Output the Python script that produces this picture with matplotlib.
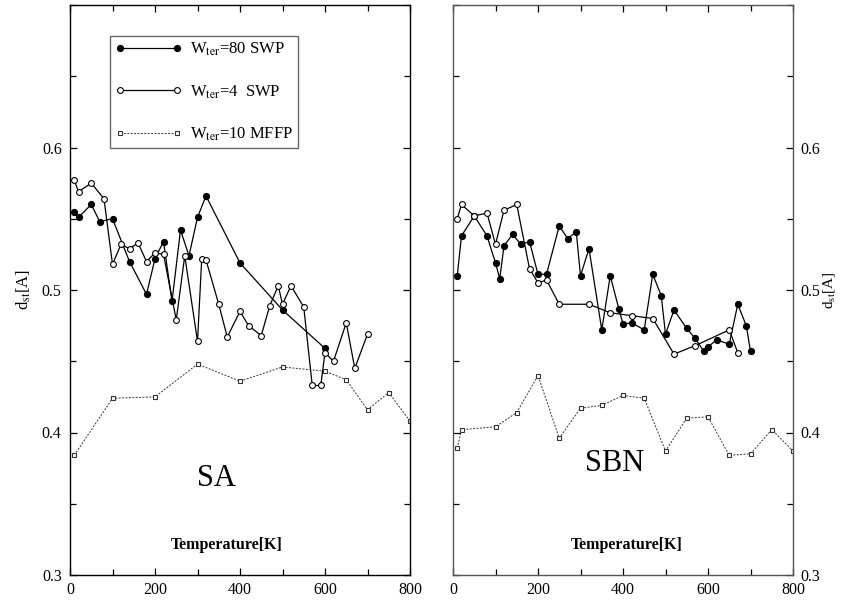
import matplotlib
matplotlib.use("Agg")
import matplotlib.pyplot as plt
from matplotlib.ticker import MultipleLocator

plt.rcParams['font.family'] = ['Liberation Serif', 'DejaVu Serif']
plt.rcParams['mathtext.fontset'] = 'stix'

# SA panel
sa_t80 = [10, 20, 50, 70, 100, 140, 180, 200, 220, 240, 260, 280, 300, 320, 400, 500, 600]
sa_d80 = [0.555, 0.551, 0.560, 0.548, 0.550, 0.520, 0.497, 0.522, 0.534, 0.492, 0.542,
          0.524, 0.551, 0.566, 0.519, 0.486, 0.459]
sa_t4 = [10, 20, 50, 80, 100, 120, 140, 160, 180, 200, 220, 250, 270, 300, 310, 320, 350,
         370, 400, 420, 450, 470, 490, 500, 520, 550, 570, 590, 600, 620, 650, 670, 700]
sa_d4 = [0.577, 0.569, 0.575, 0.564, 0.518, 0.532, 0.529, 0.533, 0.520, 0.526, 0.525, 0.479,
         0.524, 0.464, 0.522, 0.521, 0.490, 0.467, 0.485, 0.475, 0.468, 0.489, 0.503, 0.490,
         0.503, 0.488, 0.433, 0.433, 0.456, 0.450, 0.477, 0.445, 0.469]
sa_tm = [10, 100, 200, 300, 400, 500, 600, 650, 700, 750, 800]
sa_dm = [0.384, 0.424, 0.425, 0.448, 0.436, 0.446, 0.443, 0.437, 0.416, 0.428, 0.408]

# SBN panel
sbn_t80 = [10, 20, 50, 80, 100, 110, 120, 140, 160, 180, 200, 220, 250, 270, 290, 300, 320,
           350, 370, 390, 400, 420, 450, 470, 490, 500, 520, 550, 570, 590, 600, 620, 650,
           670, 690, 700]
sbn_d80 = [0.510, 0.538, 0.552, 0.538, 0.519, 0.508, 0.531, 0.539, 0.532, 0.534, 0.511,
           0.511, 0.545, 0.536, 0.541, 0.510, 0.529, 0.472, 0.510, 0.487, 0.476, 0.477,
           0.472, 0.511, 0.496, 0.469, 0.486, 0.473, 0.466, 0.457, 0.460, 0.465, 0.462,
           0.490, 0.475, 0.457]
sbn_t4 = [10, 20, 50, 80, 100, 120, 150, 180, 200, 220, 250, 320, 370, 420, 470, 520, 570,
          650, 670]
sbn_d4 = [0.550, 0.560, 0.552, 0.554, 0.532, 0.556, 0.560, 0.515, 0.505, 0.507, 0.490,
          0.490, 0.484, 0.482, 0.480, 0.455, 0.461, 0.472, 0.456]
sbn_tm = [10, 20, 100, 150, 200, 250, 300, 350, 400, 450, 500, 550, 600, 650, 700, 750, 800]
sbn_dm = [0.389, 0.402, 0.404, 0.414, 0.440, 0.396, 0.417, 0.419, 0.426, 0.424, 0.387,
          0.410, 0.411, 0.384, 0.385, 0.402, 0.387]

labels = [r"W$_{\rm ter}$=80 SWP", r"W$_{\rm ter}$=4  SWP", r"W$_{\rm ter}$=10 MFFP"]

fig = plt.figure(figsize=(8.41, 6.03), dpi=100)
W, H = 841, 603
ax1 = fig.add_axes([70 / W, 28 / H, 340 / W, 570 / H])
ax2 = fig.add_axes([453 / W, 28 / H, 340 / W, 570 / H])


def draw(ax, t80, d80, t4, d4, tm, dm):
    l1, = ax.plot(t80, d80, '-o', color='black', lw=0.9, ms=4.2, mfc='black', mec='black')
    l2, = ax.plot(t4, d4, '-o', color='black', lw=0.9, ms=4.2, mfc='white', mec='black', mew=0.8)
    l3, = ax.plot(tm, dm, linestyle=(0, (2, 1.5)), marker='s', color='#333333', lw=0.7,
                  ms=3.2, mfc='white', mec='#333333', mew=0.8)
    ax.set_xlim(0, 800)
    ax.set_ylim(0.3, 0.7)
    ax.xaxis.set_major_locator(MultipleLocator(200))
    ax.xaxis.set_minor_locator(MultipleLocator(100))
    ax.yaxis.set_major_locator(MultipleLocator(0.1))
    ax.yaxis.set_minor_locator(MultipleLocator(0.05))
    ax.tick_params(which='both', direction='in', top=True, right=True, left=True,
                   labelsize=11.5, width=0.9)
    ax.tick_params(which='major', length=5)
    ax.tick_params(which='minor', length=4)
    ax.tick_params(axis='x', pad=5)
    for s in ax.spines.values():
        s.set_linewidth(1.0)
    ax.set_yticks([0.3, 0.4, 0.5, 0.6])
    ax.set_yticklabels(['0.3', '0.4', '0.5', '0.6'])
    return l1, l2, l3


h = draw(ax1, sa_t80, sa_d80, sa_t4, sa_d4, sa_tm, sa_dm)
draw(ax2, sbn_t80, sbn_d80, sbn_t4, sbn_d4, sbn_tm, sbn_dm)

ax1.tick_params(axis='y', labelleft=True, labelright=False, pad=6)
ax1.set_ylabel(r"d$_{\rm st}$[A]", fontsize=12, labelpad=6)

ax2.tick_params(axis='y', labelleft=False, labelright=True, pad=5)
ax2.yaxis.set_label_position('right')
ax2.set_ylabel(r"d$_{\rm st}$[A]", fontsize=11, labelpad=1, rotation=90)

for s in ax2.spines.values():
    s.set_color('#555555')

leg = ax1.legend(h, labels, loc='upper left', bbox_to_anchor=(0.118, 0.946),
                 borderaxespad=0, handlelength=4.0, labelspacing=1.5, fontsize=12,
                 frameon=True, fancybox=False, handletextpad=0.5, borderpad=0.3,
                 numpoints=2)
leg.get_frame().set_edgecolor('#444444')
leg.get_frame().set_linewidth(1.0)

ax1.text(0.46, 0.045, "Temperature[K]", transform=ax1.transAxes, ha='center',
         fontsize=11.5, fontweight='bold')
ax2.text(0.51, 0.045, "Temperature[K]", transform=ax2.transAxes, ha='center',
         fontsize=11.5, fontweight='bold')
ax1.text(345, 0.368, "SA", ha='center', va='center', fontsize=22)
ax2.text(381, 0.378, "SBN", ha='center', va='center', fontsize=22)

fig.savefig("out.png", dpi=100)
